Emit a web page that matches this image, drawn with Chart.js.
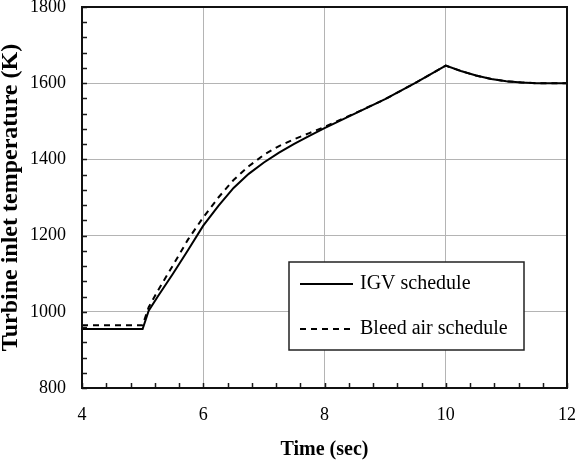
<!DOCTYPE html>
<html>
<head>
<meta charset="utf-8">
<script src="https://cdn.jsdelivr.net/npm/chart.js@4.4.1/dist/chart.umd.min.js"></script>
<style>
  html, body { margin: 0; padding: 0; background: #fff; }
  canvas { display: block; }
</style>
</head>
<body>
<canvas id="tit" width="577" height="462"></canvas>
<script>
// time (sec) and turbine inlet temperature (K)
const timeIgv = [4, 5, 5.1, 5.25, 5.5, 5.75, 6, 6.25, 6.5, 6.75, 7, 7.25, 7.5, 7.75, 8, 8.5, 9, 9.5, 10, 10.25, 10.5, 10.75, 11, 11.25, 11.5, 12];
const tempIgv = [955, 955, 1003, 1040, 1100, 1162, 1226, 1278, 1325, 1362, 1392, 1418, 1441, 1462, 1482, 1520, 1558, 1601, 1646, 1632, 1620, 1611, 1605, 1602, 1600, 1600];

const timeBleed = [4, 5, 5.1, 5.25, 5.5, 5.75, 6, 6.25, 6.5, 6.75, 7, 7.25, 7.5, 7.75, 8, 8.5, 9, 9.5, 10, 10.25, 10.5, 10.75, 11, 11.25, 11.5, 12];
const tempBleed = [965, 965, 1012, 1055, 1122, 1190, 1248, 1300, 1346, 1382, 1412, 1435, 1453, 1469, 1485, 1521, 1558, 1601, 1646, 1632, 1620, 1611, 1605, 1602, 1600, 1600];

const xTicks = [4, 6, 8, 10, 12];
const yTicks = [800, 1000, 1200, 1400, 1600, 1800];

const serif = "'Liberation Serif', 'Times New Roman', serif";

const toPoints = (xs, ys) => xs.map((x, i) => ({ x: x, y: ys[i] }));

// stop the scales from shrinking the plot for overhanging labels
function noOverhang(s) {
  s.paddingTop = 0;
  s.paddingBottom = 0;
  s.paddingLeft = 0;
  s.paddingRight = 0;
}

// box, minor inward ticks and the legend inside the plot
const framePlugin = {
  id: 'frame',
  afterDraw(chart) {
    const ctx = chart.ctx;
    const a = chart.chartArea;
    const xs = chart.scales.x, ys = chart.scales.y;
    ctx.save();
    ctx.strokeStyle = '#1a1a1a';
    ctx.lineWidth = 1.5;
    // minor ticks on the bottom axis
    for (let v = xs.min; v <= xs.max + 1e-9; v += 0.4) {
      const px = Math.round(xs.getPixelForValue(v)) + 0.5;
      ctx.beginPath();
      ctx.moveTo(px, a.bottom);
      ctx.lineTo(px, a.bottom - 5);
      ctx.stroke();
    }
    // minor ticks on the left axis
    for (let v = ys.min; v <= ys.max + 1e-9; v += 40) {
      const py = Math.round(ys.getPixelForValue(v)) + 0.5;
      ctx.beginPath();
      ctx.moveTo(a.left, py);
      ctx.lineTo(a.left + 5, py);
      ctx.stroke();
    }
    ctx.lineWidth = 2;
    ctx.strokeStyle = '#111';
    ctx.strokeRect(a.left, a.top, a.right - a.left, a.bottom - a.top);

    // legend
    const box = { x: 289, y: 262, w: 235, h: 88 };
    ctx.fillStyle = '#fff';
    ctx.fillRect(box.x, box.y, box.w, box.h);
    ctx.lineWidth = 1.5;
    ctx.strokeStyle = '#222';
    ctx.strokeRect(box.x, box.y, box.w, box.h);
    const rows = [box.y + 22, box.y + 67];
    chart.data.datasets.forEach((ds, i) => {
      const y = rows[i];
      ctx.strokeStyle = ds.borderColor;
      ctx.lineWidth = ds.borderWidth;
      ctx.setLineDash(ds.borderDash || []);
      ctx.beginPath();
      ctx.moveTo(box.x + 11, y);
      ctx.lineTo(box.x + 64, y);
      ctx.stroke();
      ctx.setLineDash([]);
      ctx.fillStyle = '#000';
      ctx.font = '20px ' + serif;
      ctx.textBaseline = 'middle';
      ctx.textAlign = 'left';
      ctx.fillText(ds.label, box.x + 71, y);
    });
    ctx.restore();
  }
};

new Chart(document.getElementById('tit').getContext('2d'), {
  type: 'line',
  data: {
    datasets: [{
      label: 'IGV schedule',
      data: toPoints(timeIgv, tempIgv),
      borderColor: '#000',
      borderWidth: 2,
      pointRadius: 0,
      tension: 0,
      fill: false
    }, {
      label: 'Bleed air schedule',
      data: toPoints(timeBleed, tempBleed),
      borderColor: '#000',
      borderWidth: 2,
      borderDash: [6, 5],
      pointRadius: 0,
      tension: 0,
      fill: false
    }]
  },
  options: {
    responsive: false,
    devicePixelRatio: 1,
    animation: false,
    layout: { padding: { left: 0, right: 10, top: 7, bottom: 0 } },
    plugins: {
      legend: { display: false },
      tooltip: { enabled: false }
    },
    scales: {
      x: {
        type: 'linear',
        min: 4,
        max: 12,
        afterBuildTicks: (s) => { s.ticks = xTicks.map(v => ({ value: v })); },
        afterFit: (s) => { s.height = 74; noOverhang(s); },
        grid: { color: '#b4b4b4', lineWidth: 1, drawTicks: false },
        border: { display: false },
        ticks: {
          color: '#000',
          padding: 16,
          font: { family: serif, size: 18 },
          callback: (v) => String(v)
        },
        title: {
          display: true,
          text: 'Time (sec)',
          color: '#000',
          padding: { top: 3, bottom: 0 },
          font: { family: serif, size: 20, weight: 'bold' }
        }
      },
      y: {
        min: 800,
        max: 1800,
        afterBuildTicks: (s) => { s.ticks = yTicks.map(v => ({ value: v })); },
        afterFit: (s) => { s.width = 82; noOverhang(s); },
        grid: { color: '#b4b4b4', lineWidth: 1, drawTicks: false },
        border: { display: false },
        ticks: {
          color: '#000',
          padding: 16,
          font: { family: serif, size: 18 },
          callback: (v) => String(v)
        },
        title: {
          display: true,
          text: 'Turbine inlet temperature (K)',
          color: '#000',
          padding: 0,
          font: { family: serif, size: 24, weight: 'bold', lineHeight: 0.9 }
        }
      }
    }
  },
  plugins: [framePlugin]
});
</script>
</body>
</html>
